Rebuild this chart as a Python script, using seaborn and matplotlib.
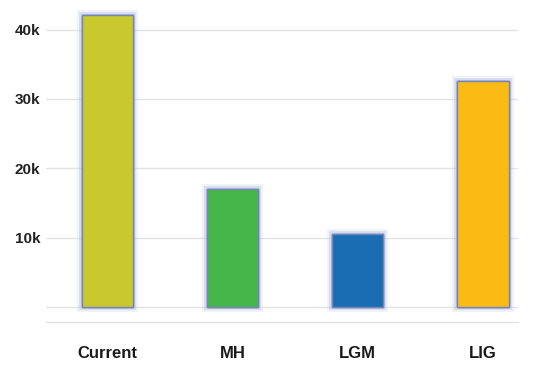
import matplotlib
matplotlib.use("Agg")
import matplotlib.pyplot as plt
import matplotlib.patheffects as pe
import seaborn as sns
import pandas as pd

categories = ["Current", "MH", "LGM", "LIG"]
values = [42100, 17050, 10600, 32600]
colors = ["#c9c92e", "#46b54a", "#1b6db3", "#fcba14"]
ytick_values = [0, 10000, 20000, 30000, 40000]
ytick_labels = ["", "10k", "20k", "30k", "40k"]

sns.set_theme(style="white")
plt.rcParams["font.family"] = ["Liberation Sans", "DejaVu Sans"]

df = pd.DataFrame({"cat": categories, "val": values})

W, H = 548, 366
fig = plt.figure(figsize=(W / 100, H / 100), dpi=100)
ax = fig.add_axes([46 / W, (H - 322) / H, (518 - 46) / W, 322 / H])

sns.barplot(data=df, x="cat", y="val", hue="cat", palette=colors, legend=False,
            width=0.41, ax=ax, zorder=3, saturation=1)

for p in ax.patches:
    p.set_edgecolor("#7485b8")
    p.set_linewidth(1.0)
    p.set_path_effects([pe.withStroke(linewidth=7, foreground="#c3cbe6", alpha=0.25),
                        pe.withStroke(linewidth=4, foreground="#a7b3da", alpha=0.35),
                        pe.Normal()])

ax.set_xlim(-0.49, 3.28)
ax.set_ylim(-2100, 44250)
ax.set_yticks(ytick_values)
ax.set_yticklabels(ytick_labels, fontsize=11, fontweight="bold", color="#222222")
ax.tick_params(axis="y", length=0, pad=4)
ax.tick_params(axis="x", length=0, pad=17)
for lbl in ax.get_xticklabels():
    lbl.set_fontsize(12)
    lbl.set_fontweight("bold")
    lbl.set_color("#1a1a1a")
ax.grid(axis="y", color="#e2e2e2", linewidth=1, zorder=0)
ax.set_xlabel("")
ax.set_ylabel("")
for s in ["top", "left", "right"]:
    ax.spines[s].set_visible(False)
ax.spines["bottom"].set_color("#e2e2e2")
ax.spines["bottom"].set_linewidth(1)

fig.savefig("out.png", dpi=100)
